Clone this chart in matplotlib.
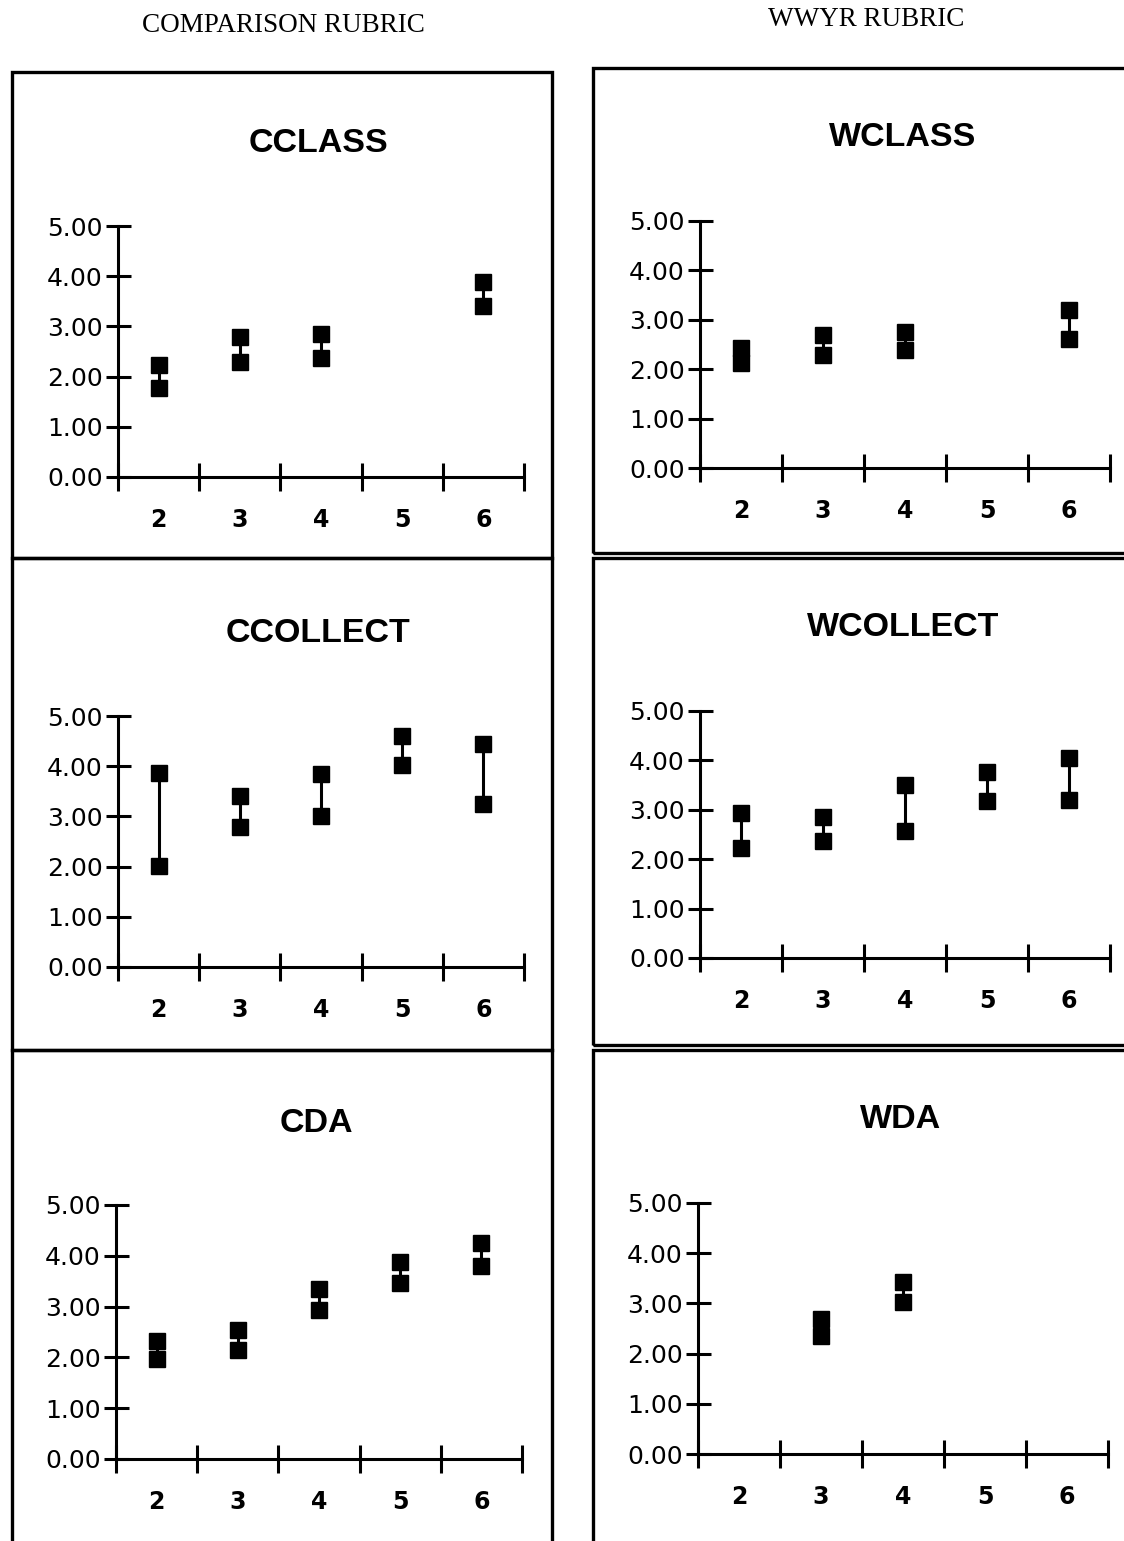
import matplotlib
matplotlib.use('Agg')
import matplotlib.pyplot as plt
from matplotlib.patches import Rectangle
import numpy as np

plt.rcParams.update({
    'font.family': 'DejaVu Sans',
    'axes.linewidth': 2.2,
})

nan = np.nan
grades = [2, 3, 4, 5, 6]
yticks = [0, 1, 2, 3, 4, 5]

cclass_hi = [2.24, 2.79, 2.84, nan, 3.88]
cclass_lo = [1.77, 2.30, 2.38, nan, 3.40]
wclass_hi = [2.42, 2.70, 2.76, nan, 3.19]
wclass_lo = [2.12, 2.28, 2.38, nan, 2.61]
ccollect_hi = [3.86, 3.40, 3.85, 4.60, 4.45]
ccollect_lo = [2.01, 2.79, 3.00, 4.02, 3.25]
wcollect_hi = [2.94, 2.85, 3.51, 3.77, 4.05]
wcollect_lo = [2.22, 2.36, 2.58, 3.18, 3.19]
cda_hi = [2.33, 2.54, 3.34, 3.87, 4.26]
cda_lo = [1.97, 2.15, 2.94, 3.46, 3.80]
wda_hi = [nan, 2.69, 3.43, nan, nan]
wda_lo = [nan, 2.36, 3.02, nan, nan]

W, H = 1124, 1541
fig = plt.figure(figsize=(W / 100, H / 100), dpi=100)

# panel layout in pixels: title, (title x, y), axes (left, right, top, bottom), box (x0, y0, x1, y1)
panels = [
    ('CCLASS', cclass_hi, cclass_lo, (318, 143), (118, 524, 226, 477), (12, 72, 552, 558)),
    ('CCOLLECT', ccollect_hi, ccollect_lo, (318, 633), (118, 524, 716, 967), (12, 558, 552, 1050)),
    ('CDA', cda_hi, cda_lo, (316, 1123), (116, 522, 1205, 1459), (12, 1050, 552, 1560)),
    ('WCLASS', wclass_hi, wclass_lo, (903, 137), (700, 1110, 221, 468), (593, 68, 1140, 553)),
    ('WCOLLECT', wcollect_hi, wcollect_lo, (903, 628), (700, 1110, 711, 958), (593, 558, 1140, 1045)),
    ('WDA', wda_hi, wda_lo, (901, 1120), (698, 1108, 1203, 1454), (593, 1050, 1140, 1560)),
]

for title, hi, lo, (tx, ty), (l, r, t, b), (x0, y0, x1, y1) in panels:
    fig.add_artist(Rectangle((x0 / W, 1 - y1 / H), (x1 - x0) / W, (y1 - y0) / H,
                             transform=fig.transFigure, fill=False, lw=2.4, color='black'))
    fig.text(tx / W, 1 - ty / H, title, ha='center', va='center',
             fontsize=24.5, fontweight='bold', family='Liberation Sans')

    ax = fig.add_axes([l / W, 1 - b / H, (r - l) / W, (b - t) / H])
    hi_a = np.array(hi, dtype=float)
    lo_a = np.array(lo, dtype=float)
    ok = ~np.isnan(hi_a)
    gx = np.array(grades)[ok]
    ax.vlines(gx, lo_a[ok], hi_a[ok], color='black', lw=2.2, zorder=3)
    ax.plot(gx, hi_a[ok], 's', color='black', ms=11.5, zorder=4, clip_on=False)
    ax.plot(gx, lo_a[ok], 's', color='black', ms=11.5, zorder=4, clip_on=False)

    ax.set_xlim(grades[0] - 0.5, grades[-1] + 0.5)
    ax.set_ylim(0, 5)
    ax.spines['top'].set_visible(False)
    ax.spines['right'].set_visible(False)
    ax.set_yticks(yticks)
    ax.set_yticklabels([f'{v:.2f}' for v in yticks], fontsize=18, fontweight='medium')
    ax.tick_params(axis='y', direction='inout', length=18, width=2.2, pad=2)
    ax.set_xticks([g - 0.5 for g in grades] + [grades[-1] + 0.5])
    ax.set_xticklabels([])
    ax.tick_params(axis='x', which='major', direction='inout', length=20, width=2.2)
    ax.set_xticks(grades, minor=True)
    ax.set_xticklabels([str(g) for g in grades], minor=True, fontsize=17, fontweight='bold')
    ax.tick_params(axis='x', which='minor', length=0, pad=22)

fig.text(283 / W, 1 - 25 / H, 'COMPARISON RUBRIC', ha='center', va='center',
         fontsize=19.5, family='Liberation Serif')
fig.text(866 / W, 1 - 20 / H, 'WWYR RUBRIC', ha='center', va='center',
         fontsize=19.5, family='Liberation Serif')

fig.savefig('out.png', dpi=100)
plt.close()
